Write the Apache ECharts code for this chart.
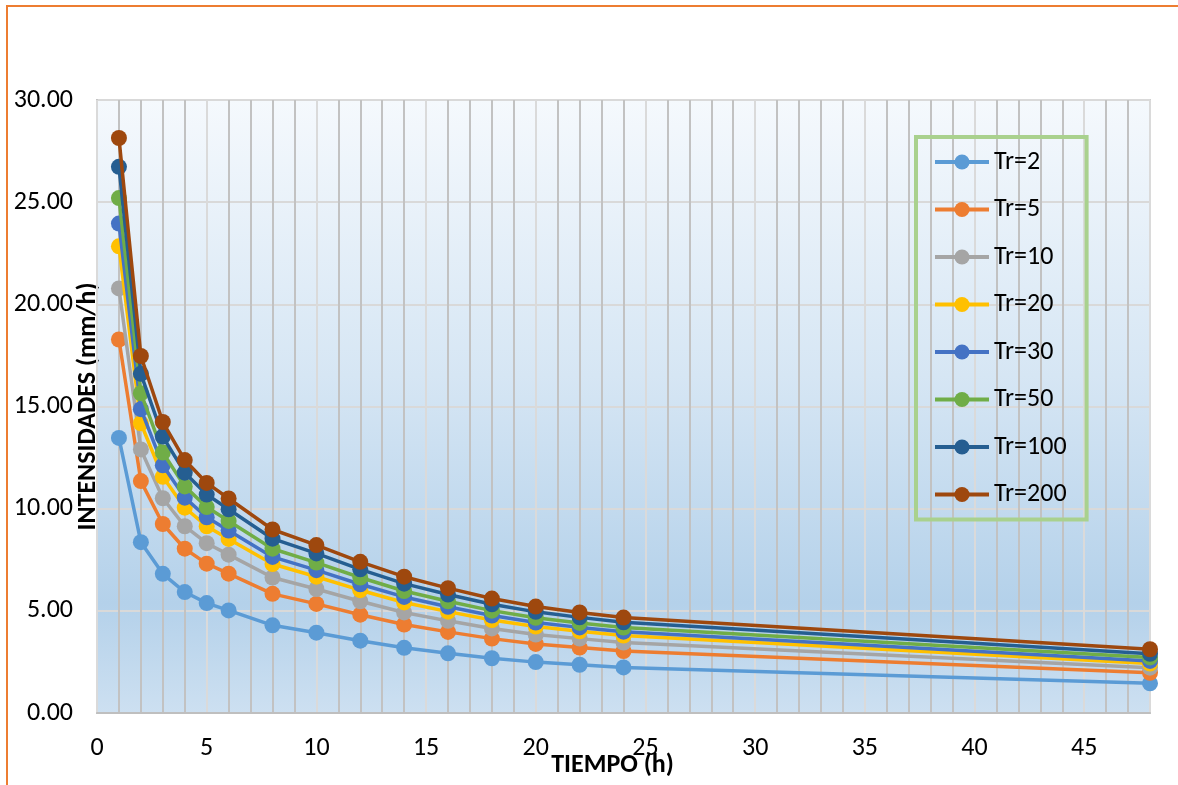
<!DOCTYPE html>
<html>
<head>
<meta charset="utf-8">
<script src="https://cdn.jsdelivr.net/npm/echarts@6/dist/echarts.min.js"></script>
<style>
html,body{margin:0;padding:0;background:#fff;}
#chart{width:1178px;height:785px;}
</style>
</head>
<body>
<div id="chart"></div>
<script>
// Duration (h)
const times = [1, 2, 3, 4, 5, 6, 8, 10, 12, 14, 16, 18, 20, 22, 24, 48];
const seriesNames = ['Tr=2', 'Tr=5', 'Tr=10', 'Tr=20', 'Tr=30', 'Tr=50', 'Tr=100', 'Tr=200'];
// Intensities (mm/h)
const tr2   = [13.46, 8.36, 6.81, 5.92, 5.38, 5.02, 4.29, 3.93, 3.54, 3.19, 2.92, 2.68, 2.49, 2.36, 2.23, 1.45];
const tr5   = [18.28, 11.35, 9.25, 8.04, 7.31, 6.82, 5.83, 5.34, 4.81, 4.33, 3.97, 3.64, 3.38, 3.20, 3.03, 1.97];
const tr10  = [20.78, 12.90, 10.51, 9.14, 8.31, 7.75, 6.63, 6.07, 5.47, 4.92, 4.51, 4.14, 3.84, 3.64, 3.45, 2.22];
const tr20  = [22.84, 14.18, 11.56, 10.05, 9.14, 8.52, 7.29, 6.67, 6.01, 5.41, 4.96, 4.55, 4.23, 4.00, 3.79, 2.42];
const tr30  = [23.95, 14.87, 12.12, 10.54, 9.58, 8.93, 7.64, 6.99, 6.30, 5.68, 5.20, 4.77, 4.43, 4.19, 3.98, 2.55];
const tr50  = [25.20, 15.65, 12.75, 11.09, 10.08, 9.40, 8.04, 7.36, 6.63, 5.97, 5.47, 5.01, 4.66, 4.41, 4.18, 2.72];
const tr100 = [26.73, 16.60, 13.53, 11.76, 10.69, 9.97, 8.53, 7.81, 7.03, 6.33, 5.80, 5.32, 4.95, 4.68, 4.44, 2.90];
const tr200 = [28.14, 17.47, 14.24, 12.38, 11.26, 10.50, 8.98, 8.22, 7.40, 6.67, 6.11, 5.60, 5.21, 4.92, 4.67, 3.12];
const allValues = [tr2, tr5, tr10, tr20, tr30, tr50, tr100, tr200];
const colors = ['#5b9bd5', '#ed7d31', '#a5a5a5', '#ffc000', '#4472c4', '#70ad47', '#255e91', '#9e480e'];

const FONT = 'Carlito, Calibri, Lato, "Open Sans", sans-serif';
const FS = 26;

const chart = echarts.init(document.getElementById('chart'), null, {renderer: 'canvas'});

const series = seriesNames.map((name, i) => ({
  name: name,
  type: 'line',
  xAxisIndex: 0,
  data: times.map((t, j) => [t, allValues[i][j]]),
  symbol: 'circle',
  symbolSize: 16,
  showSymbol: true,
  lineStyle: {color: colors[i], width: 3.5},
  itemStyle: {color: colors[i]},
  emphasis: {disabled: true},
  animation: false,
  z: 3 + i
}));

chart.setOption({
  backgroundColor: '#ffffff',
  animation: false,
  textStyle: {fontFamily: FONT},
  graphic: [{
    type: 'rect',
    shape: {x: 7, y: 6, width: 1200, height: 820},
    style: {fill: 'none', stroke: '#ed7d31', lineWidth: 2},
    silent: true,
    z: 100
  }],
  grid: {
    left: 97, right: 28, top: 100, bottom: 72,
    outerBoundsMode: 'none',
    containLabel: false,
    show: true,
    borderColor: '#d0d0d0',
    borderWidth: 2,
    backgroundColor: new echarts.graphic.LinearGradient(0, 0, 0, 1, [
      {offset: 0, color: '#f5f9fd'},
      {offset: 0.45, color: '#d6e6f4'},
      {offset: 0.82, color: '#b4d1ea'},
      {offset: 1, color: '#cde0f1'}
    ])
  },
  legend: {
    orient: 'vertical',
    left: 916,
    top: 137,
    padding: [11, 20, 11, 17],
    borderColor: '#a9d18e',
    borderWidth: 4,
    itemWidth: 54,
    itemHeight: 19,
    itemGap: 19.5,
    lineStyle: {width: 4},
    textStyle: {fontSize: FS, color: '#000', fontFamily: FONT, lineHeight: 28},
    data: seriesNames
  },
  xAxis: [{
    type: 'value',
    min: 0, max: 48, interval: 5,
    name: 'TIEMPO (h)',
    nameLocation: 'middle',
    nameGap: 39,
    nameMoveOverlap: false,
    nameTextStyle: {fontSize: FS, fontWeight: 'bold', color: '#000', fontFamily: FONT, padding: [0, 22, 0, 0]},
    axisLine: {show: true, lineStyle: {color: '#bfbfbf', width: 2}},
    axisTick: {show: false},
    axisLabel: {fontSize: FS, color: '#000', margin: 22, showMaxLabel: false, fontFamily: FONT},
    splitLine: {show: true, lineStyle: {color: '#dadada', width: 2}},
    z: 2
  }, {
    type: 'value',
    min: 0, max: 48, interval: 1,
    position: 'bottom',
    axisLine: {show: false},
    axisTick: {show: false},
    axisLabel: {show: false},
    splitLine: {show: true, lineStyle: {color: '#c2c2c2', width: 2}},
    z: 1
  }],
  yAxis: {
    type: 'value',
    min: 0, max: 30, interval: 5,
    name: 'INTENSIDADES (mm/h)',
    nameLocation: 'middle',
    nameGap: -4,
    nameMoveOverlap: false,
    nameTextStyle: {fontSize: FS, fontWeight: 'bold', color: '#000', fontFamily: FONT},
    axisLine: {show: true, lineStyle: {color: '#bfbfbf', width: 2}},
    axisTick: {show: false},
    axisLabel: {fontSize: FS, color: '#000', margin: 24, fontFamily: FONT, formatter: v => v.toFixed(2)},
    splitLine: {show: true, lineStyle: {color: '#d9d9d9', width: 2}}
  },
  series: series
});
</script>
</body>
</html>
